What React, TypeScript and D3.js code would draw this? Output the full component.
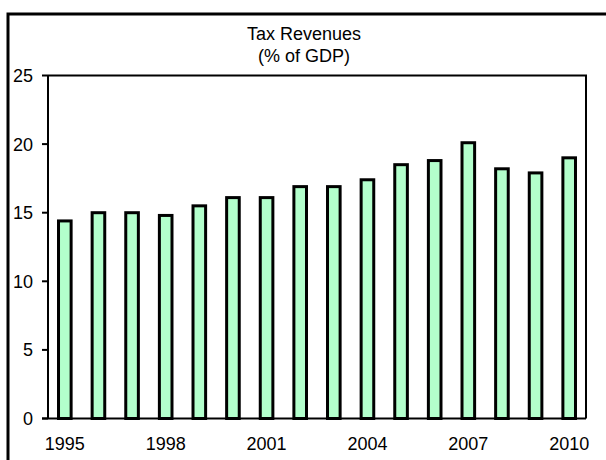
import React from "react";
import * as d3 from "d3";

const years = [1995, 1996, 1997, 1998, 1999, 2000, 2001, 2002, 2003, 2004, 2005, 2006, 2007, 2008, 2009, 2010];
const taxRevenues = [14.4, 15.0, 15.0, 14.8, 15.5, 16.1, 16.1, 16.9, 16.9, 17.4, 18.5, 18.8, 20.1, 18.2, 17.9, 19.0];
const yTicks = [0, 5, 10, 15, 20, 25];
const xTickLabels = [1995, 1998, 2001, 2004, 2007, 2010];
const titleLines = ["Tax Revenues", "(% of GDP)"];

const W = 606;
const H = 460;
const plot = { left: 48, right: 586, top: 75.5, bottom: 418.5 };
const FONT = "'Liberation Sans', Arial, sans-serif";

export default function App() {
  const x = d3
    .scaleBand<number>()
    .domain(years)
    .range([plot.left, plot.right])
    .paddingInner(0.625)
    .paddingOuter(0.3125);
  const y = d3.scaleLinear().domain([0, 25]).range([plot.bottom, plot.top]);

  return (
    <svg
      width={W}
      height={H}
      style={{ position: "absolute", left: 0, top: 0, background: "#fff" }}
      fontFamily={FONT}
    >
      {/* outer chart frame */}
      <rect x={8} y={14} width={W + 10} height={H + 10} fill="#fff" stroke="#000" strokeWidth={3} />

      {/* title */}
      {titleLines.map((t, i) => (
        <text key={t} x={304} y={40 + i * 22} textAnchor="middle" fontSize={18} fill="#000">
          {t}
        </text>
      ))}

      {/* plot area frame (top & right) */}
      <path
        d={`M${plot.left},${plot.top}H${plot.right}V${plot.bottom}`}
        fill="none"
        stroke="#000"
        strokeWidth={2}
      />

      {/* bars */}
      {years.map((yr, i) => {
        const v = taxRevenues[i];
        const bx = x(yr)!;
        return (
          <rect
            key={yr}
            x={bx}
            y={y(v)}
            width={x.bandwidth()}
            height={y(0) - y(v)}
            fill="#b3ffcc"
            stroke="#000"
            strokeWidth={3}
          />
        );
      })}

      {/* y axis */}
      <line x1={plot.left} x2={plot.left} y1={plot.top} y2={plot.bottom} stroke="#000" strokeWidth={2} />
      {yTicks.map((t) => (
        <g key={t}>
          <line x1={plot.left - 6} x2={plot.left} y1={y(t)} y2={y(t)} stroke="#000" strokeWidth={2} />
          <text x={33} y={y(t) + 6.5} textAnchor="end" fontSize={18} fill="#000">
            {t}
          </text>
        </g>
      ))}

      {/* x axis */}
      <line x1={plot.left - 6} x2={plot.right} y1={plot.bottom} y2={plot.bottom} stroke="#000" strokeWidth={2} />
      {xTickLabels.map((yr) => (
        <text
          key={yr}
          x={x(yr)! + x.bandwidth() / 2}
          y={450}
          textAnchor="middle"
          fontSize={18}
          fill="#000"
        >
          {yr}
        </text>
      ))}
    </svg>
  );
}
